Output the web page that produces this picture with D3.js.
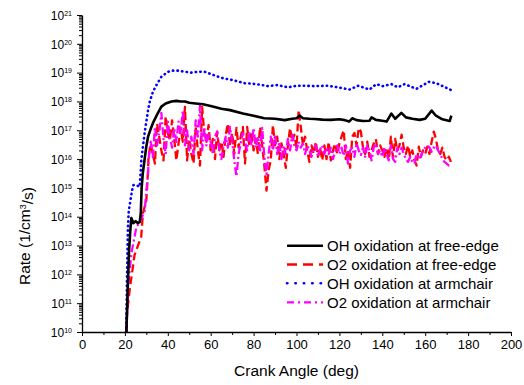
<!DOCTYPE html>
<html>
<head>
<meta charset="utf-8">
<script src="https://cdn.jsdelivr.net/npm/d3@7"></script>
<style>
  body { margin: 0; background: #fff; }
  svg { font-family: Arial, "Liberation Sans", sans-serif; }
</style>
</head>
<body>
<svg id="chart"></svg>
<script>
// crank angle grid used by the two noisy O2 series (deg)
var gridAngle = [
  31,32,33,34,35,36,37,38,39,40, 41,42,43,44,45,46,47,48,49,50,
  51,52,53,54,55,56,57,58,59,60, 61,62,63,64,65,66,67,68,69,70,
  71,72,73,74,75,76,77,78,79,80, 81,82,83,84,85,86,87,88,89,90,
  91,92,93,94,95,96,97,98,99,100, 101,102,103,104,105,106,107,108,109,110,
  111,112,113,114,115,116,117,118,119,120, 121,122,123,124,125,126,127,128,129,130,
  131,132,133,134,135,136,137,138,139,140, 141,142,143,144,145,146,147,148,149,150,
  151,152,153,154,155,156,157,158,159,160, 161,162,163,164,165,166,167,168,169,170,
  171,172
];

// OH oxidation at free-edge
var ohEdgeAngle = [20.7,21.3,21.9,22.6,23.0, 24,25,26,26.9,27.4, 27.8,28.3,29.2,30,30.8,
  32,33.1,35,37,39, 41.7,44,46,48,50, 53,56.4,60,65,69, 75,80,85,90,94.5,
  98,100,101.5,103,106, 108.5,112,116,120,122.5, 124.5,126,128,131,134,
  135,137,140,142,144.2, 146,148.9,151,154,157.4, 160,163,165,168,171.4, 172.2];
var ohEdgeRate = [1e10,3e11,6e12,4e13,9e13, 6e13,7e13,6e13,6.5e13,1.3e14, 1e15,3e15,1e16,2.8e16,6e16,
  1.1e17,1.8e17,3.5e17,6.6e17,8.5e17, 1e18,1.05e18,1e18,1e18,9e17, 8.5e17,8e17,7e17,5.6e17,5e17,
  3.8e17,3.2e17,2.6e17,2.5e17,2.25e17, 2.5e17,2.6e17,3.2e17,2.6e17,2.5e17,
  2.45e17,2.35e17,2.3e17,2.4e17,2.25e17, 2e17,2.6e17,2.25e17,2.1e17,2.15e17,
  2.8e17,2.3e17,2.15e17,2e17,3.8e17, 2.5e17,4e17,2.8e17,2.5e17,2.3e17,
  2.5e17,4.8e17,3.2e17,2.4e17,2.1e17, 3.2e17];

// O2 oxidation at free-edge (rise, then the grid)
var o2EdgeRiseAngle = [20.7,21.0,22.2,24.5,27.6,28.4,30.0,30.8];
var o2EdgeRiseRate = [1e10,4.5e10,2.8e11,4.7e12,2e13,1.3e14,3.8e14,4e15];
var o2EdgeRate = [
  1.2e16,3.5e16,1.5e16,7e15,1.7e17,6e16,2e16,9e15,3e17,8e16,
  4.5e16,2.2e17,5e16,9e15,3.5e16,1.2e17,4e16,6.5e17,9e15,5e16,
  1.5e16,7e15,1.3e17,2e16,6e15,6.5e17,8e16,4e16,1.5e17,2e16,
  5e16,1e16,9e16,2e16,4e16,1.2e16,7e16,1.7e17,3e16,8e16,
  1.5e16,1.2e17,2.5e16,6e16,1.3e17,7e15,1.3e17,3e16,9e16,2e16,
  5e16,1.5e16,1.3e17,3e16,6e15,8e14,4e15,9e15,1.5e17,3e16,
  6e16,1e16,3.5e16,1.5e16,5e15,3e16,1.2e17,4e16,7e16,2.5e16,
  5e17,1.3e17,3e16,6e16,2e16,8e15,3e16,1.5e16,4e16,1.2e16,
  2.5e16,9e15,3e16,1e16,4e16,9e15,2e16,3.5e16,1.5e16,3.5e16,
  6e16,1e17,1e16,2e16,5e15,6e16,8e16,3e16,1.2e17,9e16,
  2.5e16,1.5e16,4e16,1.2e16,2e16,3.5e16,5e16,1.5e16,3e16,2e16,
  1.2e16,2.5e16,1e16,6e16,1.1e16,5e16,2e16,3e16,7e16,2.5e16,
  1.5e16,3e16,1.2e16,2e16,9e15,6e15,2.7e16,1.2e16,2e16,1.5e16,
  2.7e16,1.5e16,4e16,9e16,5e16,2e16,1.5e16,2.5e16,1.2e16,9e15,
  1.2e16,8e15
];

// OH oxidation at armchair
var ohArmAngle = [20.6,21.0,21.4,21.8,22.4, 23.3,24,25.3,26.9,27.4, 27.7,28.4,29.2,30,30.8,
  31.6,33.1,34.7,37,40.1, 42,44.8,47,51,54, 57.2,62.7,66,70.4,75.9,
  81.3,86.7,91.2,96,100, 103.8,108.5,114.5,119.2,124.8, 128.7,134.1,137.2,140.2,144.2,
  147.2,150.4,155.9,158.2,161.8, 165.2,170.6,172];
var ohArmRate = [1e10,1e12,4e13,1.6e14,3e14, 8e14,1.25e15,1.25e15,1.1e15,4.2e15, 1e16,2.7e16,8e16,2e17,5e17,
  1e18,2.2e18,3.7e18,7.2e18,1.07e19, 1.17e19,1.17e19,1.1e19,1e19,1.07e19, 1.07e19,7.6e18,6.3e18,5.5e18,4.3e18,
  4e18,3.4e18,3.7e18,3.1e18,3.5e18, 3.5e18,3.4e18,3.5e18,3.1e18,2.6e18, 3.5e18,2.6e18,4e18,3.4e18,4e18,
  3.1e18,4e18,2.75e18,3.4e18,4.8e18, 4.3e18,2.8e18,2.5e18];

// O2 oxidation at armchair (rise, then the grid)
var o2ArmRiseAngle = [20.7,21.4,23.0,25.4,26.9,29.2,30.2,30.8];
var o2ArmRiseRate = [1e10,2.8e11,5.4e12,4.5e13,6.3e13,1.6e14,1.1e15,3e15];
var o2ArmRate = [
  9e15,4e16,1.2e16,1.3e17,3e16,8e16,4e17,5e16,1.5e16,2e17,
  6e16,2.5e16,1.2e17,4e16,2e17,8e16,5e17,3e16,1e17,2e16,
  6e16,1.5e16,2.2e17,6e16,7e17,2e16,1.3e17,3e16,8e16,4e16,
  1.5e16,6e16,9e16,2e16,1e16,3e16,6e16,2.5e16,1.3e17,4e16,
  9e15,2.5e15,1.5e16,3.5e16,8e16,4e16,2e16,9e16,3e16,1.2e17,
  2.5e16,6e16,2e16,1.2e17,1.2e16,3e15,1.5e16,6e16,2e16,7e16,
  1.5e16,4e16,1e16,3e16,1.5e16,5e16,2e16,7e16,3e16,2e16,
  4e16,2.5e16,3.5e16,1.5e16,3e16,2e16,1.2e16,2.5e16,3e16,1.2e16,
  2.2e16,3e16,1.5e16,2.5e16,1.5e16,2.5e16,1e16,1.8e16,3e16,1.5e16,
  2.5e16,1.3e16,3e16,7e15,2e16,2.5e16,1.2e16,3.5e16,2e16,1.4e16,
  2.5e16,1.2e16,3e16,2e16,9e15,2.5e16,3.5e16,1.5e16,2e16,1.2e16,
  2.5e16,1.5e16,9e15,3e16,1e16,8e15,2.5e16,1.5e16,2.5e16,1.5e16,
  1e16,8e15,1.2e16,8e15,7e15,1.5e16,1e16,1.3e16,2e16,2.5e16,
  3e16,2.5e16,1.8e16,2.5e16,3e16,2e16,1.5e16,1e16,8e15,7e15,
  6e15,6e15
];

var xTicks = [0,20,40,60,80,100,120,140,160,180,200];
var xMinorTicks = [10,30,50,70,90,110,130,150,170,190];
var yExponents = [10,11,12,13,14,15,16,17,18,19,20,21];
var legendLabels = ["OH oxidation at free-edge", "O2 oxidation at free-edge",
                    "OH oxidation at armchair", "O2 oxidation at armchair"];

var width = 524, height = 385;
var plot = {left: 82, right: 511, top: 15, bottom: 332};

var svg = d3.select("#chart").attr("width", width).attr("height", height);

var x = d3.scaleLinear().domain([0, 200]).range([plot.left, plot.right]);
var y = d3.scaleLog().domain([1e10, 1e21]).range([plot.bottom, plot.top]);

function zip(a, b) { return a.map(function(v, i) { return [v, b[i]]; }); }

var series = [
  {name: legendLabels[0], data: zip(ohEdgeAngle, ohEdgeRate), color: "#000000", w: 2.6, dash: null, legendDash: null, cap: "butt"},
  {name: legendLabels[1], data: zip(o2EdgeRiseAngle.concat(gridAngle), o2EdgeRiseRate.concat(o2EdgeRate)), color: "#ff0000", w: 2.3, dash: "8,4", legendDash: "10,6", cap: "butt"},
  {name: legendLabels[2], data: zip(ohArmAngle, ohArmRate), color: "#0000ff", w: 2.6, dash: "0.4,4.2", legendDash: "0.4,8", cap: "round"},
  {name: legendLabels[3], data: zip(o2ArmRiseAngle.concat(gridAngle), o2ArmRiseRate.concat(o2ArmRate)), color: "#ff00ff", w: 2.3, dash: "8,3,2,3", legendDash: "7,4,2,4", cap: "butt"}
];

svg.append("clipPath").attr("id", "clip").append("rect")
  .attr("x", plot.left).attr("y", plot.top - 2)
  .attr("width", plot.right - plot.left).attr("height", plot.bottom - plot.top + 2);

var line = d3.line()
  .x(function(d) { return x(d[0]); })
  .y(function(d) { return y(d[1]); });

// draw order: O2 free-edge, O2 armchair, OH armchair, OH free-edge on top
var order = [1, 3, 2, 0];
var lines = svg.append("g").attr("clip-path", "url(#clip)");
order.forEach(function(i) {
  var s = series[i];
  lines.append("path")
    .datum(s.data)
    .attr("d", line)
    .attr("fill", "none")
    .attr("stroke", s.color)
    .attr("stroke-width", s.w)
    .attr("stroke-linejoin", "round")
    .attr("stroke-linecap", s.cap)
    .attr("stroke-dasharray", s.dash);
});

// x axis
var xAxis = svg.append("g").attr("transform", "translate(0," + plot.bottom + ")")
  .call(d3.axisBottom(x).tickValues(xTicks).tickSize(4).tickSizeOuter(0).tickPadding(4));
svg.append("g").attr("transform", "translate(0," + plot.bottom + ")")
  .call(d3.axisBottom(x).tickValues(xMinorTicks).tickSize(3).tickFormat(""))
  .select(".domain").remove();
xAxis.selectAll("text").attr("font-size", 13).attr("fill", "#000");

// y axis
var yMinor = [];
yExponents.slice(0, -1).forEach(function(e) {
  [2,3,4,5,6,7,8,9].forEach(function(k) { yMinor.push(k * Math.pow(10, e)); });
});
svg.append("g").attr("transform", "translate(" + plot.left + ",0)")
  .call(d3.axisLeft(y).tickValues(yMinor).tickSize(3).tickFormat(""))
  .select(".domain").remove();
var yAxis = svg.append("g").attr("transform", "translate(" + plot.left + ",0)")
  .call(d3.axisLeft(y).tickValues(yExponents.map(function(e) { return Math.pow(10, e); }))
    .tickSize(5).tickSizeOuter(0).tickPadding(5).tickFormat(""));
yAxis.selectAll(".tick text").each(function(d) {
  var t = d3.select(this).attr("font-size", 12).attr("fill", "#000").attr("dy", "0.35em");
  t.text("10");
  t.append("tspan").attr("dy", "-0.55em").attr("font-size", 7).text(Math.round(Math.log10(d)));
});
svg.selectAll(".domain").attr("stroke-width", 1.3);
svg.selectAll(".tick line").attr("stroke-width", 1);

// axis titles
svg.append("text").attr("x", (plot.left + plot.right) / 2).attr("y", 376)
  .attr("text-anchor", "middle").attr("font-size", 15.5).text("Crank Angle (deg)");
var yt = svg.append("text").attr("transform", "translate(30,236) rotate(-90)")
  .attr("text-anchor", "middle").attr("font-size", 15.5);
yt.append("tspan").text("Rate (1/cm");
yt.append("tspan").attr("dy", "-0.5em").attr("font-size", 9).text("3");
yt.append("tspan").attr("dy", "0.5em").text("/s)");

// legend
var legend = svg.append("g");
var rowY = [245.7, 264.5, 283.3, 302.3];
series.forEach(function(s, i) {
  legend.append("line")
    .attr("x1", 287).attr("x2", 323).attr("y1", rowY[i]).attr("y2", rowY[i])
    .attr("stroke", s.color).attr("stroke-width", s.w)
    .attr("stroke-linecap", s.cap)
    .attr("stroke-dasharray", s.legendDash);
  legend.append("text").attr("x", 327).attr("y", rowY[i]).attr("dy", "0.36em")
    .attr("font-size", 15).text(s.name);
});
</script>
</body>
</html>
